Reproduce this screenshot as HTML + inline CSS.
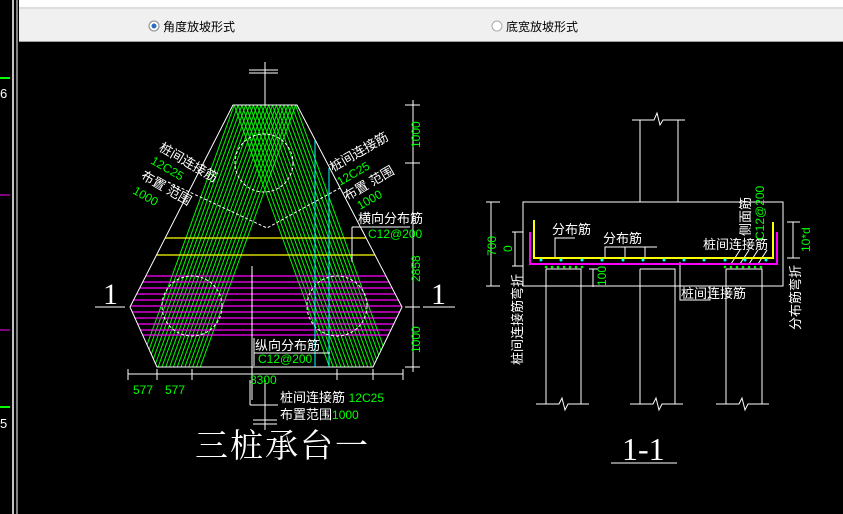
<!DOCTYPE html>
<html><head><meta charset="utf-8"><style>
html,body{margin:0;padding:0;background:#000;width:843px;height:514px;overflow:hidden}
svg{display:block}
.w{fill:#fff;font-family:"Liberation Sans","Noto Sans CJK SC",sans-serif;font-size:13px}
.g{fill:#0f0;font-family:"Liberation Sans","Noto Sans CJK SC",sans-serif;font-size:12px}
.ui{fill:#000;font-family:"Liberation Sans","Noto Sans CJK SC",sans-serif;font-size:12px}
</style></head><body>
<svg width="843" height="514" viewBox="0 0 843 514" xmlns="http://www.w3.org/2000/svg">
<defs>
<pattern id="p1" width="3.6" height="10" patternUnits="userSpaceOnUse" patternTransform="rotate(20)"><line x1="0.5" y1="0" x2="0.5" y2="10" stroke="#0f0" stroke-width="1"/></pattern>
<pattern id="p2" width="3.6" height="10" patternUnits="userSpaceOnUse" patternTransform="rotate(-20)"><line x1="0.5" y1="0" x2="0.5" y2="10" stroke="#0f0" stroke-width="1"/></pattern>
<clipPath id="hex"><polygon points="233,105 297,105 402,307 373,367 157,367 130,307"/></clipPath>
</defs>
<rect width="843" height="514" fill="#000"/>
<line x1="13" y1="0" x2="13" y2="514" stroke="#fff" stroke-width="1.5"/>
<line x1="17" y1="0" x2="17" y2="514" stroke="#fff" stroke-width="1"/>
<text x="0" y="98" class="w" font-size="16">6</text>
<text x="0" y="428" class="w" font-size="16">5</text>
<line x1="0" y1="78" x2="10" y2="78" stroke="#0f0" stroke-width="2"/>
<line x1="0" y1="407" x2="10" y2="407" stroke="#0f0" stroke-width="2"/>
<line x1="0" y1="330" x2="10" y2="330" stroke="#f0f"/>
<line x1="0" y1="195" x2="10" y2="195" stroke="#f0f"/>
<rect x="19" y="0" width="824" height="42" fill="#f0f0f0"/>
<rect x="19" y="0" width="824" height="7" fill="#fff"/>
<line x1="19" y1="8" x2="843" y2="8" stroke="#ccc"/>
<line x1="19" y1="41.5" x2="843" y2="41.5" stroke="#a0a0a0"/>
<circle cx="154" cy="26" r="5" fill="#fff" stroke="#888"/>
<circle cx="154" cy="26" r="2.5" fill="#2a6fbf"/>
<text x="163" y="31" class="ui">角度放坡形式</text>
<circle cx="497" cy="26" r="5" fill="#fff" stroke="#aaa"/>
<text x="506" y="31" class="ui">底宽放坡形式</text>
<g clip-path="url(#hex)">
<polygon points="233,105 297,105 202,367 138,367" fill="url(#p1)"/>
<polygon points="233,105 297,105 392,367 328,367" fill="url(#p2)"/>
<g stroke="#f0f" stroke-width="1.3">
<line x1="120" y1="276" x2="410" y2="276"/><line x1="120" y1="282" x2="410" y2="282"/>
<line x1="120" y1="288" x2="410" y2="288"/><line x1="120" y1="294" x2="410" y2="294"/>
<line x1="120" y1="300" x2="410" y2="300"/><line x1="120" y1="306" x2="410" y2="306"/>
<line x1="120" y1="312" x2="410" y2="312"/><line x1="120" y1="318" x2="410" y2="318"/>
<line x1="120" y1="324" x2="410" y2="324"/><line x1="120" y1="330" x2="410" y2="330"/>
<line x1="120" y1="335" x2="410" y2="335"/>
</g>
<line x1="120" y1="238" x2="410" y2="238" stroke="#ff0" stroke-width="1.3"/>
<line x1="120" y1="255" x2="410" y2="255" stroke="#ff0" stroke-width="1.3"/>
</g>
<polygon points="233,105 297,105 402,307 373,367 157,367 130,307" fill="none" stroke="#fff" stroke-width="1"/>
<g fill="none" stroke="#fff" stroke-dasharray="3,2">
<circle cx="264" cy="163" r="29"/><circle cx="192" cy="306" r="30"/><circle cx="337" cy="306" r="30"/>
<polyline points="168,182 267,228 340,188"/>
</g>
<line x1="315" y1="140" x2="315" y2="367" stroke="#0ff"/>
<line x1="329" y1="168" x2="329" y2="367" stroke="#0ff"/>
<line x1="252" y1="266" x2="252" y2="400" stroke="#fff"/>
<line x1="265" y1="62" x2="265" y2="105" stroke="#fff"/>
<line x1="249" y1="70" x2="278" y2="70" stroke="#fff"/><line x1="249" y1="73" x2="278" y2="73" stroke="#fff"/>
<g stroke="#fff">
<line x1="413" y1="100" x2="413" y2="372"/>
<line x1="405" y1="105" x2="420" y2="105"/><line x1="405" y1="163" x2="420" y2="163"/>
<line x1="405" y1="307" x2="420" y2="307"/><line x1="405" y1="367" x2="420" y2="367"/>
<line x1="423" y1="307" x2="455" y2="307"/><line x1="95" y1="307" x2="125" y2="307"/>
<line x1="128" y1="374" x2="403" y2="374"/>
<line x1="128" y1="369" x2="128" y2="380"/><line x1="157" y1="369" x2="157" y2="380"/>
<line x1="192" y1="369" x2="192" y2="380"/><line x1="337" y1="369" x2="337" y2="380"/>
<line x1="373" y1="369" x2="373" y2="380"/><line x1="403" y1="369" x2="403" y2="380"/>
<line x1="250" y1="380" x2="250" y2="405"/><line x1="250" y1="405" x2="278" y2="405"/>
<line x1="265" y1="380" x2="265" y2="430"/>
<line x1="253" y1="420" x2="277" y2="420"/><line x1="253" y1="424" x2="277" y2="424"/>
<line x1="254" y1="338" x2="254" y2="366"/><line x1="254" y1="353" x2="330" y2="353"/>
<line x1="352" y1="227" x2="352" y2="262"/><line x1="352" y1="227" x2="410" y2="227"/>
</g>
<g class="g">
<text transform="translate(420,148) rotate(-90)">1000</text>
<text transform="translate(420,282) rotate(-90)">2858</text>
<text transform="translate(420,353) rotate(-90)">1000</text>
</g>
<text x="133" y="394" class="g">577</text><text x="165" y="394" class="g">577</text>
<text x="250" y="384" class="g">3300</text>
<text x="103" y="304" fill="#fff" font-family="Liberation Serif,serif" font-size="30">1</text>
<text x="431" y="304" fill="#fff" font-family="Liberation Serif,serif" font-size="30">1</text>
<text transform="translate(158,150) rotate(30)" class="w">桩间连接筋</text>
<text transform="translate(150,163) rotate(30)" class="g">12C25</text>
<text transform="translate(140,178) rotate(30)" class="w">布置 范围</text>
<text transform="translate(132,193) rotate(30)" class="g">1000</text>
<text transform="translate(333,172) rotate(-30)" class="w">桩间连接筋</text>
<text transform="translate(340,186) rotate(-30)" class="g">12C25</text>
<text transform="translate(347,201) rotate(-30)" class="w">布置 范围</text>
<text transform="translate(360,210) rotate(-30)" class="g">1000</text>
<text x="358" y="223" class="w">横向分布筋</text>
<text x="368" y="238" class="g">C12@200</text>
<text x="255" y="350" class="w">纵向分布筋</text>
<text x="258" y="363" class="g">C12@200</text>
<text x="280" y="402" class="w">桩间连接筋 <tspan class="g">12C25</tspan></text>
<text x="280" y="419" class="w">布置范围<tspan class="g">1000</tspan></text>
<text x="195" y="457" fill="#fff" font-family="Noto Serif CJK SC,serif" font-size="33" letter-spacing="2">三桩承台一</text>
<g stroke="#fff" fill="none">
<polyline points="640,202 640,120 632,120"/><polyline points="678,202 678,120 685,120"/>
<polyline points="640,120 654,120 657,113 660,125 663,120 678,120"/>
<rect x="523" y="202" width="260" height="84"/>
<polyline points="546,269 581,269 581,404"/><line x1="546" y1="269" x2="546" y2="404"/>
<polyline points="640,269 675,269 675,404"/><line x1="640" y1="269" x2="640" y2="404"/>
<polyline points="726,269 762,269 762,404"/><line x1="726" y1="269" x2="726" y2="404"/>
<polyline points="536,404 559,404 562,398 565,410 568,404 589,404"/>
<polyline points="630,404 653,404 656,398 659,410 662,404 683,404"/>
<polyline points="716,404 739,404 742,398 745,410 748,404 769,404"/>
<line x1="491" y1="202" x2="491" y2="286"/><line x1="486" y1="202" x2="500" y2="202"/><line x1="486" y1="286" x2="500" y2="286"/>
<line x1="515" y1="232" x2="515" y2="266"/><line x1="512" y1="232" x2="523" y2="232"/><line x1="512" y1="266" x2="523" y2="266"/>
<line x1="793" y1="222" x2="793" y2="258"/><line x1="787" y1="222" x2="800" y2="222"/><line x1="787" y1="258" x2="800" y2="258"/>
<line x1="593" y1="269" x2="593" y2="287"/><line x1="589" y1="269" x2="598" y2="269"/>
<polyline points="555,258 555,238 575,238"/>
<polyline points="605,258 605,247 657,247"/><line x1="625" y1="247" x2="625" y2="258"/><line x1="645" y1="247" x2="645" y2="258"/>
<line x1="680" y1="262" x2="680" y2="300"/><rect x="680" y="286" width="30" height="14"/>
<line x1="731" y1="264" x2="740" y2="250"/><line x1="740" y1="264" x2="749" y2="250"/><line x1="749" y1="264" x2="758" y2="250"/><line x1="758" y1="264" x2="767" y2="250"/>
</g>
<polyline points="534,220 534,258 773,258 773,222" fill="none" stroke="#ff0" stroke-width="2"/>
<polyline points="530,232 530,264 777,264 777,232" fill="none" stroke="#f0f" stroke-width="2"/>
<g fill="#0ff"><circle cx="541" cy="260" r="1.5"/><circle cx="561" cy="260" r="1.5"/><circle cx="582" cy="260" r="1.5"/><circle cx="602" cy="260" r="1.5"/><circle cx="623" cy="260" r="1.5"/><circle cx="643" cy="260" r="1.5"/><circle cx="664" cy="260" r="1.5"/><circle cx="684" cy="260" r="1.5"/><circle cx="704" cy="260" r="1.5"/><circle cx="725" cy="260" r="1.5"/><circle cx="745" cy="260" r="1.5"/><circle cx="766" cy="260" r="1.5"/></g>
<g fill="#0f0"><circle cx="546" cy="267" r="1.3"/><circle cx="552" cy="267" r="1.3"/><circle cx="558" cy="267" r="1.3"/><circle cx="564" cy="267" r="1.3"/><circle cx="570" cy="267" r="1.3"/><circle cx="576" cy="267" r="1.3"/><circle cx="582" cy="267" r="1.3"/><circle cx="725" cy="267" r="1.3"/><circle cx="731" cy="267" r="1.3"/><circle cx="737" cy="267" r="1.3"/><circle cx="743" cy="267" r="1.3"/><circle cx="749" cy="267" r="1.3"/><circle cx="755" cy="267" r="1.3"/><circle cx="761" cy="267" r="1.3"/></g>
<text x="552" y="234" class="w">分布筋</text>
<text x="603" y="243" class="w">分布筋</text>
<text x="703" y="249" class="w">桩间连接筋</text>
<text x="681" y="298" class="w">桩间连接筋</text>
<text transform="translate(750,236) rotate(-90)" class="w">侧面筋</text>
<text transform="translate(764,240) rotate(-90)" class="g">C12@200</text>
<text transform="translate(496,256) rotate(-90)" class="g">700</text>
<text transform="translate(512,252) rotate(-90)" class="g">0</text>
<text transform="translate(606,286) rotate(-90)" class="g">100</text>
<text transform="translate(810,252) rotate(-90)" class="g">10*d</text>
<text transform="translate(522,365) rotate(-90)" class="w">桩间连接筋弯折</text>
<text transform="translate(800,330) rotate(-90)" class="w">分布筋弯折</text>
<text x="622" y="460" fill="#fff" font-family="Liberation Serif,serif" font-size="32">1-1</text>
<line x1="611" y1="463" x2="677" y2="463" stroke="#fff"/>
</svg>
</body></html>
